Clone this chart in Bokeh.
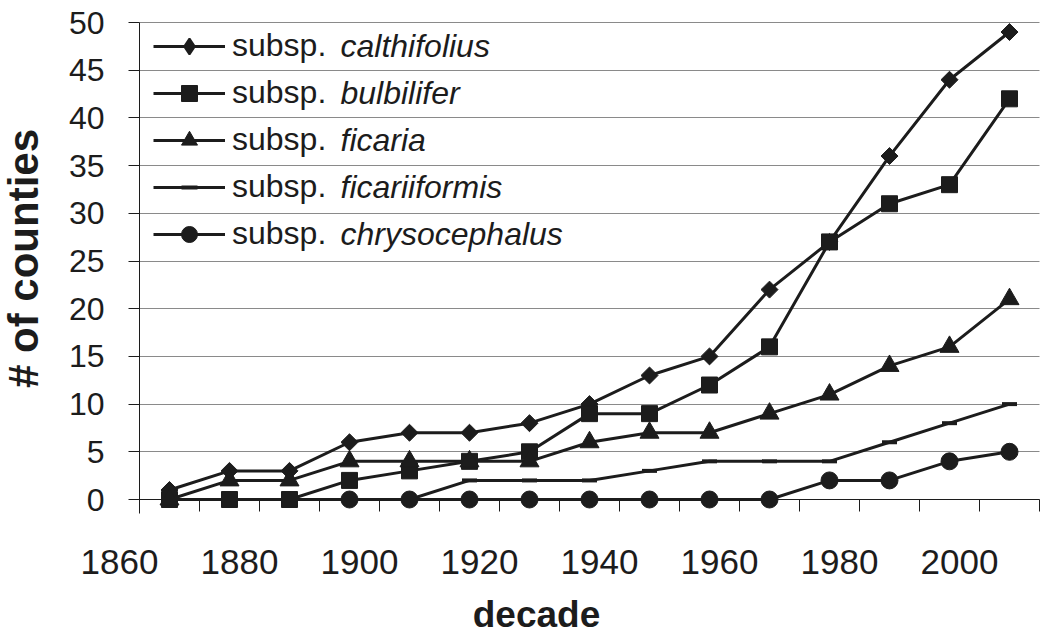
import math
import numpy as np
from bokeh.plotting import figure
from bokeh.models import (Range1d, LinearAxis, FixedTicker, Legend, LegendItem, Label, Grid)
from bokeh.embed import file_html
from bokeh.resources import INLINE

# ---------------- data ----------------
decades = [1870, 1880, 1890, 1900, 1910, 1920, 1930, 1940, 1950, 1960, 1970, 1980, 1990, 2000, 2010]
calthifolius = [1, 3, 3, 6, 7, 7, 8, 10, 13, 15, 22, 27, 36, 44, 49]
bulbilifer = [0, 0, 0, 2, 3, 4, 5, 9, 9, 12, 16, 27, 31, 33, 42]
ficaria = [0, 2, 2, 4, 4, 4, 4, 6, 7, 7, 9, 11, 14, 16, 21]
ficariiformis = [0, 0, 0, 0, 0, 2, 2, 2, 3, 4, 4, 4, 6, 8, 10]
chrysocephalus = [np.nan, np.nan, np.nan, 0, 0, 0, 0, 0, 0, 0, 0, 2, 2, 4, 5]
series_names = ["calthifolius", "bulbilifer", "ficaria", "ficariiformis", "chrysocephalus"]
x_tick_labels = [1860, 1880, 1900, 1920, 1940, 1960, 1980, 2000]
y_ticks = [0, 5, 10, 15, 20, 25, 30, 35, 40, 45, 50]

# ---------------- style / layout ----------------
INK = "#1c1c1c"
GRID = "#8a8a8a"
FONT = "Liberation Sans"
W, H = 1045, 637

# plot area of the original chart (pixels)
AX_LEFT, AX_RIGHT = 139, 1039      # category axis extent
AX_Y0, AX_Y50 = 499, 22            # pixel rows of 0 and 50
LABEL_SHIFT = 5 / 3                # decade labels sit this far left of category centres

x_axis_start = decades[0] - 5
x_end_axis = decades[-1] + 5
PX_X = (AX_RIGHT - AX_LEFT) / (x_end_axis - x_axis_start)
PX_Y = (AX_Y0 - AX_Y50) / 50.0

# the frame covers the whole canvas; axes are pinned inside it
x0 = x_axis_start - AX_LEFT / PX_X
x1 = x_axis_start + (W - AX_LEFT) / PX_X
y1 = 50 + AX_Y50 / PX_Y
y0 = -(H - AX_Y0) / PX_Y


def px_x(px):
    return x0 + px / PX_X


def px_y(py):
    return y1 - py / PX_Y


p = figure(width=W, height=H, x_range=Range1d(x0, x1), y_range=Range1d(y0, y1),
           output_backend="svg", toolbar_location=None, x_axis_location=None,
           y_axis_location=None, min_border=0, min_border_left=0, min_border_right=0,
           min_border_top=0, min_border_bottom=0)
p.outline_line_color = None
p.background_fill_color = "white"
p.border_fill_color = "white"
p.xgrid.visible = False
p.ygrid.visible = False

# horizontal grid lines across the category axis extent
grid_kw = dict(dimension=1, ticker=FixedTicker(ticks=y_ticks), grid_line_color=GRID,
               grid_line_width=1, bounds=(y_ticks[0], y_ticks[-1]))
if "cross_bounds" in Grid.properties():
    grid_kw["cross_bounds"] = (x_axis_start, x_end_axis)
p.add_layout(Grid(**grid_kw))

# y axis, pinned at the left category boundary
yaxis = LinearAxis(fixed_location=x_axis_start, ticker=FixedTicker(ticks=y_ticks),
                   bounds=(px_y(513), y_ticks[-1]),
                   major_tick_in=0, major_tick_out=11, minor_tick_line_color=None,
                   major_tick_line_color=INK, axis_line_color=INK,
                   major_label_standoff=24, major_label_text_font=FONT,
                   major_label_text_font_size="32px", major_label_text_color=INK)
p.add_layout(yaxis, "left")

# category axis along y = 0 with ticks between decades
bound_ticks = [d - 5 for d in decades] + [decades[-1] + 5]
tick_axis = LinearAxis(fixed_location=0, ticker=FixedTicker(ticks=bound_ticks),
                       bounds=(x_axis_start, x_end_axis),
                       major_tick_in=0, major_tick_out=12, major_tick_line_color=INK,
                       minor_tick_line_color=None, axis_line_color=INK,
                       major_label_text_color=None, major_label_text_font_size="1px")
p.add_layout(tick_axis, "below")

# decade labels axis
p.extra_x_ranges = {"lbl": Range1d(x0 - LABEL_SHIFT, x1 - LABEL_SHIFT)}
lbl_axis = LinearAxis(x_range_name="lbl", fixed_location=0,
                      ticker=FixedTicker(ticks=x_tick_labels),
                      bounds=(x_tick_labels[0] - 2, x_tick_labels[-1] + 2),
                      axis_line_color=None,
                      major_tick_line_color=None, major_tick_in=0, major_tick_out=0,
                      minor_tick_line_color=None, major_label_standoff=50,
                      major_label_text_font=FONT, major_label_text_font_size="35px",
                      major_label_text_color=INK)
p.add_layout(lbl_axis, "below")

# axis titles
p.add_layout(Label(x=px_x(536), y=px_y(614), text="decade", text_font=FONT,
                   text_font_style="bold", text_font_size="37px", text_color=INK,
                   text_align="center", text_baseline="middle"))
p.add_layout(Label(x=px_x(23), y=px_y(258), text="# of counties", text_font=FONT,
                   text_font_style="bold", text_font_size="42px", text_color=INK,
                   text_align="center", text_baseline="middle", angle=math.pi / 2))

# ---------------- series ----------------
marker_specs = [
    dict(marker="square", angle=math.pi / 4, size=12),
    dict(marker="square", size=16),
    dict(marker="triangle", size=19),
    dict(marker="dash", size=15, line_width=4),
    dict(marker="circle", size=17),
]
legend_markers = ["diamond", "square", "triangle", "dash", "circle"]
series_values = [calthifolius, bulbilifer, ficaria, ficariiformis, chrysocephalus]

items = []
xs = np.array(decades, dtype=float)
for vals, spec, lm in zip(series_values, marker_specs, legend_markers):
    ys = np.array(vals, dtype=float)
    lr = p.line(xs, ys, line_color=INK, line_width=3)
    kw = dict(spec)
    lw = kw.pop("line_width", 1)
    sr = p.scatter(xs, ys, fill_color=INK, line_color=INK, line_width=lw, **kw)
    if lm == "diamond":
        # legend swatch only (the legend ignores marker angle); no visible data
        sw = p.scatter(np.array([np.nan]), np.array([np.nan]), marker="diamond",
                       fill_color=INK, line_color=INK, line_width=2)
        items.append(LegendItem(label="subsp.", renderers=[lr, sw]))
    else:
        items.append(LegendItem(label="subsp.", renderers=[lr, sr]))

LEG_LEFT_PX = 153
ROW0_PX = 45.5
ITEM_H = 40
SPACING = 7
n = len(items)
leg_h = n * ITEM_H + (n - 1) * SPACING
leg_top = ROW0_PX - ITEM_H / 2
legend = Legend(items=items, location=(LEG_LEFT_PX, H - leg_top - leg_h),
                glyph_width=72, glyph_height=ITEM_H, label_height=ITEM_H,
                spacing=SPACING, label_standoff=7, padding=0, margin=0,
                border_line_color=None, background_fill_alpha=0,
                label_text_font=FONT, label_text_font_size="32px",
                label_text_color=INK)
p.add_layout(legend)

# italic subspecies names next to "subsp."
NAME_PX = 340
for i, name in enumerate(series_names):
    cy = ROW0_PX + i * (ITEM_H + SPACING)
    p.add_layout(Label(x=px_x(NAME_PX), y=px_y(cy), text=name,
                       text_font=FONT, text_font_style="italic", text_font_size="32px",
                       text_color=INK, text_baseline="middle", text_align="left"))

open("out.html", "w").write(file_html(p, INLINE))
